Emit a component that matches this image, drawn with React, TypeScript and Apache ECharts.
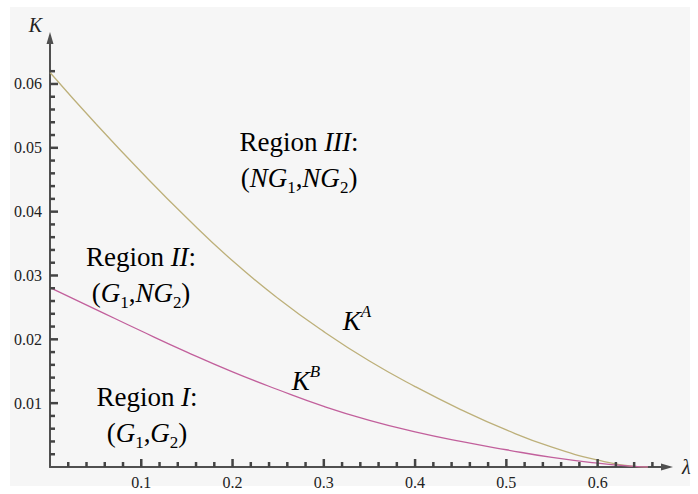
import React, { useEffect, useRef } from 'react';
import * as echarts from 'echarts';

// λ values and the two threshold curves
const lambda = [0, 0.05, 0.1, 0.15, 0.2, 0.25, 0.3, 0.35, 0.4, 0.45, 0.5, 0.55, 0.6, 0.64, 0.655];
const kA = [0.0618, 0.0538, 0.0462, 0.039, 0.0323, 0.0264, 0.0212, 0.0166, 0.0126, 0.009, 0.0058, 0.0031, 0.0011, 0.0001, 0];
const kB = [0.0281, 0.0247, 0.0213, 0.018, 0.0149, 0.0121, 0.0095, 0.0073, 0.0055, 0.004, 0.0027, 0.0015, 0.0006, 0.0001, 0];

// tick positions and labels
const xMajorTicks = [0.1, 0.2, 0.3, 0.4, 0.5, 0.6];
const xMinorTicks = [0.02, 0.04, 0.06, 0.08, 0.12, 0.14, 0.16, 0.18, 0.22, 0.24, 0.26, 0.28, 0.32, 0.34, 0.36, 0.38, 0.42, 0.44, 0.46, 0.48, 0.52, 0.54, 0.56, 0.58, 0.62, 0.64, 0.66];
const yMajorTicks = [0.01, 0.02, 0.03, 0.04, 0.05, 0.06];
const yMinorTicks = [0.002, 0.004, 0.006, 0.008, 0.012, 0.014, 0.016, 0.018, 0.022, 0.024, 0.026, 0.028, 0.032, 0.034, 0.036, 0.038, 0.042, 0.044, 0.046, 0.048, 0.052, 0.054, 0.056, 0.058, 0.062];

const SERIF = 'Liberation Serif';
const AXIS_COLOR = '#505050';
const TICK_COLOR = '#444444';
const COLOR_A = '#bdb07a';
const COLOR_B = '#c2609c';

const X_MIN = 0;
const X_MAX = 0.676;
const Y_MIN = 0;
const Y_MAX = 0.0672;

const rich = {
  r: { fontFamily: SERIF, fontSize: 27, color: '#111', lineHeight: 36 },
  i: { fontFamily: SERIF, fontSize: 27, fontStyle: 'italic', color: '#111', lineHeight: 36 },
  s: { fontFamily: SERIF, fontSize: 17, color: '#111', lineHeight: 16, verticalAlign: 'bottom' },
  si: { fontFamily: SERIF, fontSize: 17, fontStyle: 'italic', color: '#111', lineHeight: 16, verticalAlign: 'top' },
};

function tickSeries(data: number[][], size: number[], offset: number[]) {
  return {
    type: 'scatter', data, symbol: 'rect', symbolSize: size, symbolOffset: offset,
    itemStyle: { color: TICK_COLOR, opacity: 1 }, silent: true, clip: false, z: 10,
  };
}

export default function App() {
  const ref = useRef<HTMLDivElement>(null);
  useEffect(() => {
    if (!ref.current) return;
    const chart = echarts.init(ref.current, null, { renderer: 'svg' });
    const pairs = (ys: number[]) => lambda.map((x, i) => [x, ys[i]]);
    const lineStyle = { color: AXIS_COLOR, width: 2 };
    chart.setOption({
      animation: false,
      backgroundColor: '#ffffff',
      grid: { left: 50, right: 31, top: 38, bottom: 27, containLabel: false },
      xAxis: {
        type: 'value', min: X_MIN, max: X_MAX,
        name: 'λ', nameLocation: 'end', nameGap: 15,
        nameTextStyle: { fontFamily: SERIF, fontStyle: 'italic', fontSize: 20, color: '#222', padding: [20, 0, 0, 0] },
        axisLine: { show: true, onZero: false, symbol: ['none', 'triangle'], symbolSize: [7, 12], lineStyle },
        axisTick: { show: false },
        axisLabel: { show: true, customValues: xMajorTicks, margin: 7, fontFamily: SERIF, fontSize: 16, color: '#222' },
        splitLine: { show: false },
      },
      yAxis: {
        type: 'value', min: Y_MIN, max: Y_MAX,
        name: 'K', nameLocation: 'end', nameGap: 3,
        nameTextStyle: { fontFamily: SERIF, fontStyle: 'italic', fontSize: 20, color: '#222', align: 'right', padding: [0, 8, 0, 0] },
        axisLine: { show: true, onZero: false, symbol: ['none', 'triangle'], symbolSize: [7, 12], lineStyle },
        axisTick: { show: false },
        axisLabel: { show: true, customValues: yMajorTicks, margin: 8, fontFamily: SERIF, fontSize: 16, color: '#222' },
        splitLine: { show: false },
      },
      series: [
        {
          name: 'K^A', type: 'line', smooth: true, symbol: 'none', data: pairs(kA),
          lineStyle: { color: COLOR_A, width: 1.3 }, z: 3,
        },
        {
          name: 'K^B', type: 'line', smooth: true, symbol: 'none', data: pairs(kB),
          lineStyle: { color: COLOR_B, width: 1.3 }, z: 4,
        },
        tickSeries(xMajorTicks.map((v) => [v, 0]), [2.5, 8], [0, -4]),
        tickSeries(xMinorTicks.map((v) => [v, 0]), [2.5, 5], [0, -2.5]),
        tickSeries(yMajorTicks.map((v) => [0, v]), [8, 2.5], [4, 0]),
        tickSeries(yMinorTicks.map((v) => [0, v]), [5, 2.5], [2.5, 0]),
      ],
      graphic: [
        { type: 'rect', z: -100, silent: true, shape: { x: 10, y: 7, width: 680, height: 479 }, style: { fill: '#f6f6f6' } },
        {
          type: 'text', x: 299, y: 160, silent: true,
          style: { text: '{r|Region }{i|III}{r|:}\n{r|(}{i|NG}{s|1}{r|,}{i|NG}{s|2}{r|)}', rich, align: 'center', verticalAlign: 'middle' },
        },
        {
          type: 'text', x: 141, y: 275, silent: true,
          style: { text: '{r|Region }{i|II}{r|:}\n{r|(}{i|G}{s|1}{r|,}{i|NG}{s|2}{r|)}', rich, align: 'center', verticalAlign: 'middle' },
        },
        {
          type: 'text', x: 147, y: 415, silent: true,
          style: { text: '{r|Region }{i|I}{r|:}\n{r|(}{i|G}{s|1}{r|,}{i|G}{s|2}{r|)}', rich, align: 'center', verticalAlign: 'middle' },
        },
        {
          type: 'text', x: 357, y: 321, silent: true,
          style: { text: '{i|K}{si|A}', rich, align: 'center', verticalAlign: 'middle' },
        },
        {
          type: 'text', x: 306, y: 381, silent: true,
          style: { text: '{i|K}{si|B}', rich, align: 'center', verticalAlign: 'middle' },
        },
      ],
    });
    return () => chart.dispose();
  }, []);
  return <div ref={ref} style={{ position: 'fixed', left: 0, top: 0, width: 698, height: 494 }} />;
}
